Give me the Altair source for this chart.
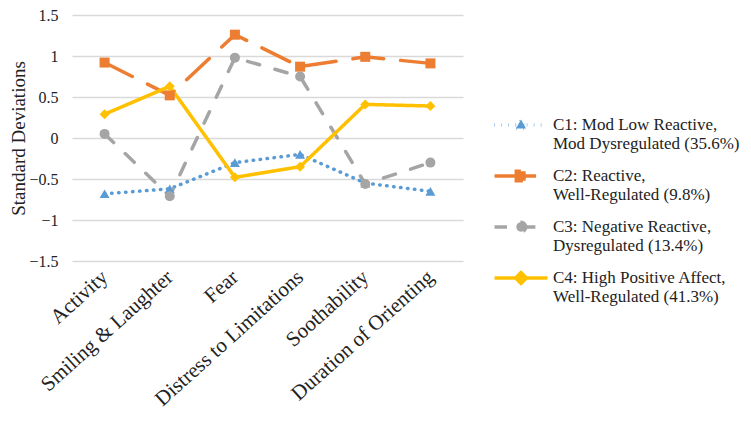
import altair as alt
import pandas as pd

categories = ["Activity", "Smiling & Laughter", "Fear", "Distress to Limitations",
              "Soothability", "Duration of Orienting"]
series = [
    "C1: Mod Low Reactive,|Mod Dysregulated (35.6%)",
    "C2: Reactive,|Well-Regulated (9.8%)",
    "C3: Negative Reactive,|Dysregulated (13.4%)",
    "C4: High Positive Affect,|Well-Regulated (41.3%)",
]
c1 = [-0.68, -0.62, -0.30, -0.20, -0.55, -0.65]
c2 = [0.92, 0.52, 1.26, 0.87, 0.99, 0.91]
c3 = [0.05, -0.71, 0.98, 0.75, -0.56, -0.30]
c4 = [0.29, 0.63, -0.48, -0.35, 0.41, 0.39]
colors = ["#5B9BD5", "#ED7D31", "#A5A5A5", "#FFC000"]
shapes = ["triangle-up", "square", "circle", "diamond"]
dashes = [[0.5, 6.5], [31, 17], [12.5, 16], [1, 0]]
# legend symbols: one continuous path, a line segment with the marker in its middle
legend_shapes = [
    "M-1.47,0L-0.17,0L0,-0.3L0.28,0.2L-0.28,0.2L-0.17,0L1.47,0",
    "M-1.47,0L-0.26,0L-0.26,-0.26L0.26,-0.26L0.26,0.26L-0.26,0.26L-0.26,0L1.47,0",
    "M-1.47,0L-0.26,0A0.26,0.26 0 1,1 0.26,0A0.26,0.26 0 1,1 -0.26,0L1.47,0",
    "M-1.47,0L-0.3,0L0,-0.3L0.3,0L0,0.3L-0.3,0L1.47,0",
]

rows = []
for s, vals in zip(series, [c1, c2, c3, c4]):
    for c, v in zip(categories, vals):
        rows.append({"category": c, "series": s, "key": s, "value": v})
df = pd.DataFrame(rows)

FONT = "Liberation Serif"
W, H = 391, 246
PL, PT = 64, 7

x = alt.X("category:N", sort=categories, title=None,
          scale=alt.Scale(type="point", padding=0.5),
          axis=alt.Axis(labelAngle=-42, labelAlign="right", labelBaseline="middle",
                        labelFontSize=21, labelFont=FONT, labelColor="#222",
                        labelLimit=400, domain=False, ticks=False, labelPadding=13,
                        grid=False))
y = alt.Y("value:Q", title="Standard Deviations",
          scale=alt.Scale(domain=[-1.5, 1.5], nice=False, zero=False),
          axis=alt.Axis(values=[-1.5, -1, -0.5, 0, 0.5, 1, 1.5],
                        labelExpr="datum.value == 0 ? '0' : format(datum.value, '')",
                        labelFontSize=16, labelFont=FONT, labelColor="#222",
                        titleFontSize=19, titleFont=FONT, titleFontWeight="normal",
                        titleColor="#222", titlePadding=0,
                        domain=False, ticks=False, labelPadding=14,
                        gridColor="#d9d9d9", gridWidth=1.3))

legend = alt.Legend(title=None, orient="none", legendX=429, legendY=90, padding=0,
                    labelExpr="split(datum.label, '|')",
                    labelFont=FONT, labelFontSize=17, labelColor="#222",
                    labelLimit=300, rowPadding=4, symbolSize=1296,
                    labelOffset=12, labelBaseline="middle", symbolStrokeWidth=3.5,
                    symbolOpacity=1)

lines = alt.Chart(df).mark_line(strokeWidth=3.5, strokeCap="round").encode(
    x=x, y=y,
    color=alt.Color("series:N", sort=series,
                    scale=alt.Scale(domain=series, range=colors), legend=None),
    strokeDash=alt.StrokeDash("series:N", sort=series,
                              scale=alt.Scale(domain=series, range=dashes), legend=None),
)
points = alt.Chart(df).mark_point(filled=True, size=100, opacity=1).encode(
    x=x, y=y,
    color=alt.Color("series:N", sort=series,
                    scale=alt.Scale(domain=series, range=colors), legend=None),
    shape=alt.Shape("series:N", sort=series,
                    scale=alt.Scale(domain=series, range=shapes), legend=None),
)
legend_layer = alt.Chart(df).mark_point(opacity=0, strokeWidth=3.5, strokeCap="round").encode(
    x=x, y=y,
    fill=alt.Fill("key:N", sort=series,
                  scale=alt.Scale(domain=series, range=colors), legend=legend),
    stroke=alt.Stroke("key:N", sort=series,
                      scale=alt.Scale(domain=series, range=colors), legend=legend),
    shape=alt.Shape("key:N", sort=series,
                    scale=alt.Scale(domain=series, range=legend_shapes), legend=legend),
    strokeDash=alt.StrokeDash("key:N", sort=series,
                              scale=alt.Scale(domain=series, range=dashes), legend=legend),
)

chart = alt.layer(lines, points, legend_layer).resolve_scale(
    color="independent", shape="independent", strokeDash="independent",
    fill="independent", stroke="independent",
).properties(
    width=W, height=H,
    autosize=alt.AutoSizeParams(type="none"),
    padding={"left": PL, "top": PT, "right": 735 - PL - W, "bottom": 406 - PT - H},
).configure(font=FONT).configure_view(stroke=None)

chart.save("out.html", embed_options={"renderer": "svg", "actions": False})
